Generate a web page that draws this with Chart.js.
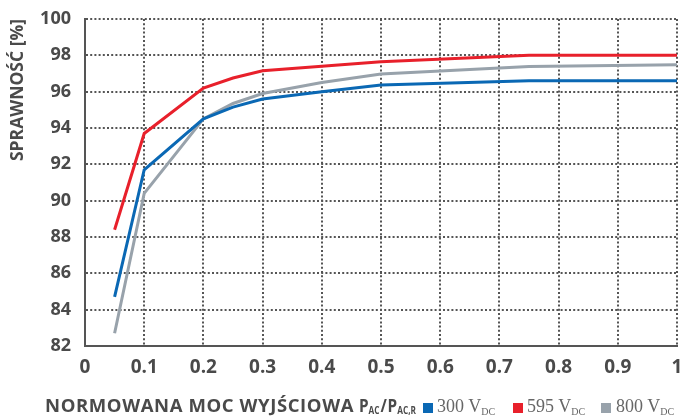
<!DOCTYPE html>
<html>
<head>
<meta charset="utf-8">
<script src="https://cdn.jsdelivr.net/npm/chart.js@4/dist/chart.umd.min.js"></script>
<style>
  html, body { margin: 0; padding: 0; background: #fff; }
  #wrap { position: relative; width: 681px; height: 419px; overflow: hidden; }
  #c { position: absolute; left: 0; top: 0; }
  #xtitle { position: absolute; left: 45px; top: 395px; white-space: nowrap; font-family: "Open Sans", sans-serif; font-weight: bold; font-size: 18.5px; line-height: 20px; color: #4a4a4a; letter-spacing: 0.6px; }
  #xtitle .pp { display: inline-block; letter-spacing: 0; transform-origin: left center; }
  #xtitle sub { font-size: 10px; vertical-align: -2px; letter-spacing: 0; }
  #xtitle .sl { margin: 0 1px; }
  .leg { position: absolute; top: 396px; white-space: nowrap; font-family: "Liberation Serif", "DejaVu Serif", serif; font-size: 18px; line-height: 20px; color: #666; }
  .leg sub { font-size: 10px; vertical-align: -3px; }
  .sq { position: absolute; top: 403px; width: 10px; height: 10px; }
</style>
</head>
<body>
<div id="wrap">
  <canvas id="c" width="681" height="419"></canvas>
</div>
<script>
// ---- data ----
const loadPoints = [0.05, 0.1, 0.2, 0.25, 0.3, 0.4, 0.5, 0.75, 1.0];
const eff300 = [84.7, 91.7, 94.5, 95.15, 95.6, 96.0, 96.37, 96.6, 96.6];
const eff595 = [88.4, 93.7, 96.2, 96.75, 97.15, 97.4, 97.65, 98.0, 98.0];
const eff800 = [82.7, 90.4, 94.5, 95.35, 95.9, 96.5, 96.97, 97.38, 97.48];
const seriesVolts = ['300', '595', '800'];
const seriesColors = ['#0a68b4', '#e8202b', '#98a2ab'];
const xTickLabels = ['0', '0.1', '0.2', '0.3', '0.4', '0.5', '0.6', '0.7', '0.8', '0.9', '1'];
const yTickLabels = ['82', '84', '86', '88', '90', '92', '94', '96', '98', '100'];
const yTitle = 'SPRAWNOŚĆ [%]';

const seriesValues = [eff300, eff595, eff800];
const datasets = seriesValues.map((vals, i) => ({
  label: seriesVolts[i] + ' VDC',
  data: loadPoints.map((x, k) => ({ x: x, y: vals[k] })),
  borderColor: seriesColors[i],
  backgroundColor: seriesColors[i],
  borderWidth: 3,
  pointRadius: 0,
  tension: 0,
  fill: false,
  order: [2, 1, 3][i]
}));

const DASH = [2, 2.2];
const tickFont = { family: '"Open Sans", sans-serif', weight: 'bold', size: 19 };
const gridOpts = { color: '#555', lineWidth: 2, drawTicks: false, borderDash: DASH, dash: DASH };
const borderOpts = { display: true, color: '#555', width: 2, dash: DASH };

new Chart(document.getElementById('c'), {
  type: 'line',
  data: { datasets: datasets },
  options: {
    responsive: false,
    animation: false,
    layout: { padding: { left: 8, right: 4, top: 19, bottom: 33 } },
    plugins: { legend: { display: false }, tooltip: { enabled: false } },
    scales: {
      x: {
        type: 'linear', min: 0, max: 1,
        ticks: {
          stepSize: 0.1, color: '#4a4a4a', font: tickFont, padding: 10, maxRotation: 0,
          callback: (v, i) => xTickLabels[i]
        },
        grid: gridOpts,
        border: borderOpts,
        afterFit: (s) => { s.height = 40; s.paddingLeft = 0; s.paddingRight = 0; }
      },
      y: {
        min: 82, max: 100,
        ticks: {
          stepSize: 2, color: '#4a4a4a', font: { family: '"Open Sans", sans-serif', weight: 'bold', size: 18 }, padding: 14,
          callback: (v, i) => yTickLabels[i]
        },
        grid: gridOpts,
        border: borderOpts,
        title: {
          display: true, text: yTitle, align: 'end', color: '#4a4a4a',
          font: { family: '"Open Sans", sans-serif', weight: 'bold', size: 17.5 },
          padding: { top: 0, bottom: 0 }
        },
        afterFit: (s) => { s.width = 77; s.paddingTop = 0; s.paddingBottom = 0; }
      }
    }
  }
});

// bottom line: axis title + legend (HTML for subscripts)
const wrap = document.getElementById('wrap');
const t = document.createElement('div');
t.id = 'xtitle';
t.innerHTML = 'NORMOWANA MOC WYJŚCIOWA <span class="pp">P<sub>AC</sub><span class="sl">/</span>P<sub>AC,R</sub></span>';
wrap.appendChild(t);
const pp = t.querySelector('.pp');
const w = pp.getBoundingClientRect().width;
if (w > 0) pp.style.transform = 'scaleX(' + (57 / w).toFixed(3) + ')';

const sqLeft = [423, 513, 601];
const txtLeft = [437, 527, 616];
seriesVolts.forEach((v, i) => {
  const sq = document.createElement('div');
  sq.className = 'sq';
  sq.style.left = sqLeft[i] + 'px';
  sq.style.background = seriesColors[i];
  wrap.appendChild(sq);
  const lab = document.createElement('div');
  lab.className = 'leg';
  lab.style.left = txtLeft[i] + 'px';
  lab.innerHTML = v + ' V<sub>DC</sub>';
  wrap.appendChild(lab);
});
</script>
</body>
</html>
